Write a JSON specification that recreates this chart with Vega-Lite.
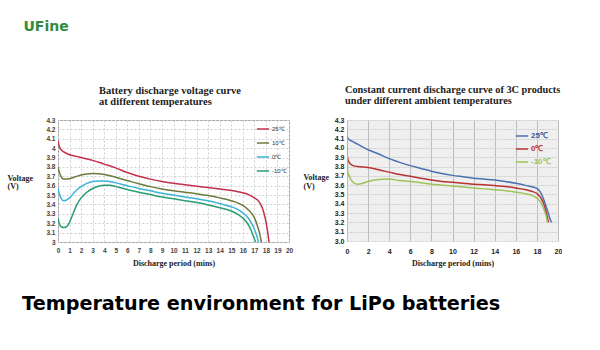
{
  "$schema": "https://vega.github.io/schema/vega-lite/v6.json",
  "background": "white",
  "padding": {"left": 6, "top": 19, "right": 0, "bottom": 0},
  "title": {"text": "UFine", "orient": "top", "anchor": "start", "frame": "bounds", "font": "DejaVu Sans", "fontSize": 14, "fontWeight": "bold", "color": "#2e8b3e", "dx": 17, "offset": 51},
  "datasets": {
    "left": [
      {"t": 0, "v": 4.08, "temp": "25℃"}, {"t": 0.1, "v": 4.02, "temp": "25℃"}, {"t": 0.3, "v": 3.98, "temp": "25℃"}, {"t": 0.5, "v": 3.96, "temp": "25℃"}, {"t": 1, "v": 3.93, "temp": "25℃"}, {"t": 1.5, "v": 3.915, "temp": "25℃"}, {"t": 2, "v": 3.9, "temp": "25℃"}, {"t": 3, "v": 3.87, "temp": "25℃"}, {"t": 4, "v": 3.83, "temp": "25℃"}, {"t": 5, "v": 3.79, "temp": "25℃"}, {"t": 6, "v": 3.74, "temp": "25℃"}, {"t": 7, "v": 3.7, "temp": "25℃"}, {"t": 8, "v": 3.67, "temp": "25℃"}, {"t": 9, "v": 3.645, "temp": "25℃"}, {"t": 10, "v": 3.625, "temp": "25℃"}, {"t": 11, "v": 3.61, "temp": "25℃"}, {"t": 12, "v": 3.595, "temp": "25℃"}, {"t": 13, "v": 3.58, "temp": "25℃"}, {"t": 14, "v": 3.565, "temp": "25℃"}, {"t": 15, "v": 3.55, "temp": "25℃"}, {"t": 16, "v": 3.525, "temp": "25℃"}, {"t": 16.5, "v": 3.505, "temp": "25℃"}, {"t": 17, "v": 3.47, "temp": "25℃"}, {"t": 17.4, "v": 3.43, "temp": "25℃"}, {"t": 17.7, "v": 3.36, "temp": "25℃"}, {"t": 17.95, "v": 3.25, "temp": "25℃"}, {"t": 18.1, "v": 3.15, "temp": "25℃"}, {"t": 18.27, "v": 3.0, "temp": "25℃"},
      {"t": 0, "v": 3.8, "temp": "10℃"}, {"t": 0.1, "v": 3.75, "temp": "10℃"}, {"t": 0.3, "v": 3.69, "temp": "10℃"}, {"t": 0.5, "v": 3.67, "temp": "10℃"}, {"t": 0.8, "v": 3.67, "temp": "10℃"}, {"t": 1, "v": 3.675, "temp": "10℃"}, {"t": 1.5, "v": 3.695, "temp": "10℃"}, {"t": 2, "v": 3.715, "temp": "10℃"}, {"t": 2.5, "v": 3.725, "temp": "10℃"}, {"t": 3, "v": 3.73, "temp": "10℃"}, {"t": 3.5, "v": 3.728, "temp": "10℃"}, {"t": 4, "v": 3.72, "temp": "10℃"}, {"t": 5, "v": 3.69, "temp": "10℃"}, {"t": 6, "v": 3.655, "temp": "10℃"}, {"t": 7, "v": 3.62, "temp": "10℃"}, {"t": 8, "v": 3.59, "temp": "10℃"}, {"t": 9, "v": 3.565, "temp": "10℃"}, {"t": 10, "v": 3.545, "temp": "10℃"}, {"t": 11, "v": 3.53, "temp": "10℃"}, {"t": 12, "v": 3.515, "temp": "10℃"}, {"t": 13, "v": 3.495, "temp": "10℃"}, {"t": 14, "v": 3.47, "temp": "10℃"}, {"t": 15, "v": 3.44, "temp": "10℃"}, {"t": 15.5, "v": 3.42, "temp": "10℃"}, {"t": 16, "v": 3.39, "temp": "10℃"}, {"t": 16.5, "v": 3.34, "temp": "10℃"}, {"t": 17, "v": 3.26, "temp": "10℃"}, {"t": 17.3, "v": 3.16, "temp": "10℃"}, {"t": 17.5, "v": 3.07, "temp": "10℃"}, {"t": 17.6, "v": 3.0, "temp": "10℃"},
      {"t": 0, "v": 3.58, "temp": "0℃"}, {"t": 0.1, "v": 3.52, "temp": "0℃"}, {"t": 0.3, "v": 3.46, "temp": "0℃"}, {"t": 0.5, "v": 3.44, "temp": "0℃"}, {"t": 0.7, "v": 3.445, "temp": "0℃"}, {"t": 1, "v": 3.47, "temp": "0℃"}, {"t": 1.5, "v": 3.54, "temp": "0℃"}, {"t": 2, "v": 3.59, "temp": "0℃"}, {"t": 2.5, "v": 3.625, "temp": "0℃"}, {"t": 3, "v": 3.645, "temp": "0℃"}, {"t": 3.5, "v": 3.65, "temp": "0℃"}, {"t": 4, "v": 3.65, "temp": "0℃"}, {"t": 5, "v": 3.63, "temp": "0℃"}, {"t": 6, "v": 3.6, "temp": "0℃"}, {"t": 7, "v": 3.57, "temp": "0℃"}, {"t": 8, "v": 3.545, "temp": "0℃"}, {"t": 9, "v": 3.52, "temp": "0℃"}, {"t": 10, "v": 3.5, "temp": "0℃"}, {"t": 11, "v": 3.48, "temp": "0℃"}, {"t": 12, "v": 3.46, "temp": "0℃"}, {"t": 13, "v": 3.44, "temp": "0℃"}, {"t": 14, "v": 3.41, "temp": "0℃"}, {"t": 15, "v": 3.375, "temp": "0℃"}, {"t": 15.5, "v": 3.35, "temp": "0℃"}, {"t": 16, "v": 3.31, "temp": "0℃"}, {"t": 16.5, "v": 3.25, "temp": "0℃"}, {"t": 16.8, "v": 3.19, "temp": "0℃"}, {"t": 17.05, "v": 3.12, "temp": "0℃"}, {"t": 17.25, "v": 3.05, "temp": "0℃"}, {"t": 17.35, "v": 3.0, "temp": "0℃"},
      {"t": 0, "v": 3.26, "temp": "-10℃"}, {"t": 0.1, "v": 3.2, "temp": "-10℃"}, {"t": 0.3, "v": 3.16, "temp": "-10℃"}, {"t": 0.5, "v": 3.155, "temp": "-10℃"}, {"t": 0.8, "v": 3.17, "temp": "-10℃"}, {"t": 1, "v": 3.21, "temp": "-10℃"}, {"t": 1.3, "v": 3.3, "temp": "-10℃"}, {"t": 1.6, "v": 3.39, "temp": "-10℃"}, {"t": 2, "v": 3.47, "temp": "-10℃"}, {"t": 2.5, "v": 3.53, "temp": "-10℃"}, {"t": 3, "v": 3.57, "temp": "-10℃"}, {"t": 3.5, "v": 3.595, "temp": "-10℃"}, {"t": 4, "v": 3.605, "temp": "-10℃"}, {"t": 4.5, "v": 3.605, "temp": "-10℃"}, {"t": 5, "v": 3.59, "temp": "-10℃"}, {"t": 6, "v": 3.56, "temp": "-10℃"}, {"t": 7, "v": 3.53, "temp": "-10℃"}, {"t": 8, "v": 3.505, "temp": "-10℃"}, {"t": 9, "v": 3.48, "temp": "-10℃"}, {"t": 10, "v": 3.46, "temp": "-10℃"}, {"t": 11, "v": 3.44, "temp": "-10℃"}, {"t": 12, "v": 3.42, "temp": "-10℃"}, {"t": 13, "v": 3.395, "temp": "-10℃"}, {"t": 14, "v": 3.365, "temp": "-10℃"}, {"t": 15, "v": 3.33, "temp": "-10℃"}, {"t": 15.5, "v": 3.3, "temp": "-10℃"}, {"t": 16, "v": 3.255, "temp": "-10℃"}, {"t": 16.4, "v": 3.2, "temp": "-10℃"}, {"t": 16.7, "v": 3.13, "temp": "-10℃"}, {"t": 16.95, "v": 3.05, "temp": "-10℃"}, {"t": 17.1, "v": 3.0, "temp": "-10℃"}
    ],
    "right": [
      {"m": 0, "u": 4.13, "amb": "25℃"}, {"m": 0.1, "u": 4.1, "amb": "25℃"}, {"m": 0.5, "u": 4.07, "amb": "25℃"}, {"m": 1, "u": 4.04, "amb": "25℃"}, {"m": 2, "u": 3.98, "amb": "25℃"}, {"m": 3, "u": 3.935, "amb": "25℃"}, {"m": 4, "u": 3.885, "amb": "25℃"}, {"m": 5, "u": 3.845, "amb": "25℃"}, {"m": 6, "u": 3.81, "amb": "25℃"}, {"m": 7, "u": 3.78, "amb": "25℃"}, {"m": 8, "u": 3.75, "amb": "25℃"}, {"m": 9, "u": 3.725, "amb": "25℃"}, {"m": 10, "u": 3.705, "amb": "25℃"}, {"m": 11, "u": 3.69, "amb": "25℃"}, {"m": 12, "u": 3.675, "amb": "25℃"}, {"m": 13, "u": 3.665, "amb": "25℃"}, {"m": 14, "u": 3.655, "amb": "25℃"}, {"m": 15, "u": 3.64, "amb": "25℃"}, {"m": 16, "u": 3.62, "amb": "25℃"}, {"m": 17, "u": 3.595, "amb": "25℃"}, {"m": 18, "u": 3.565, "amb": "25℃"}, {"m": 18.3, "u": 3.53, "amb": "25℃"}, {"m": 18.6, "u": 3.46, "amb": "25℃"}, {"m": 18.9, "u": 3.36, "amb": "25℃"}, {"m": 19.1, "u": 3.29, "amb": "25℃"}, {"m": 19.3, "u": 3.22, "amb": "25℃"}, {"m": 19.4, "u": 3.2, "amb": "25℃"},
      {"m": 0, "u": 3.93, "amb": "0℃"}, {"m": 0.1, "u": 3.87, "amb": "0℃"}, {"m": 0.3, "u": 3.83, "amb": "0℃"}, {"m": 0.6, "u": 3.81, "amb": "0℃"}, {"m": 1, "u": 3.8, "amb": "0℃"}, {"m": 2, "u": 3.79, "amb": "0℃"}, {"m": 2.5, "u": 3.78, "amb": "0℃"}, {"m": 3, "u": 3.765, "amb": "0℃"}, {"m": 4, "u": 3.74, "amb": "0℃"}, {"m": 5, "u": 3.715, "amb": "0℃"}, {"m": 6, "u": 3.695, "amb": "0℃"}, {"m": 7, "u": 3.675, "amb": "0℃"}, {"m": 8, "u": 3.655, "amb": "0℃"}, {"m": 9, "u": 3.64, "amb": "0℃"}, {"m": 10, "u": 3.63, "amb": "0℃"}, {"m": 11, "u": 3.62, "amb": "0℃"}, {"m": 12, "u": 3.61, "amb": "0℃"}, {"m": 13, "u": 3.605, "amb": "0℃"}, {"m": 14, "u": 3.595, "amb": "0℃"}, {"m": 15, "u": 3.585, "amb": "0℃"}, {"m": 16, "u": 3.57, "amb": "0℃"}, {"m": 17, "u": 3.55, "amb": "0℃"}, {"m": 17.5, "u": 3.535, "amb": "0℃"}, {"m": 18, "u": 3.51, "amb": "0℃"}, {"m": 18.4, "u": 3.46, "amb": "0℃"}, {"m": 18.7, "u": 3.38, "amb": "0℃"}, {"m": 18.9, "u": 3.3, "amb": "0℃"}, {"m": 19.1, "u": 3.2, "amb": "0℃"},
      {"m": 0, "u": 4.2, "amb": "-10℃"}, {"m": 0.03, "u": 3.9, "amb": "-10℃"}, {"m": 0.06, "u": 3.75, "amb": "-10℃"}, {"m": 0.2, "u": 3.7, "amb": "-10℃"}, {"m": 0.5, "u": 3.64, "amb": "-10℃"}, {"m": 1, "u": 3.61, "amb": "-10℃"}, {"m": 1.5, "u": 3.62, "amb": "-10℃"}, {"m": 2, "u": 3.64, "amb": "-10℃"}, {"m": 3, "u": 3.66, "amb": "-10℃"}, {"m": 4, "u": 3.665, "amb": "-10℃"}, {"m": 5, "u": 3.65, "amb": "-10℃"}, {"m": 6, "u": 3.64, "amb": "-10℃"}, {"m": 7, "u": 3.625, "amb": "-10℃"}, {"m": 8, "u": 3.61, "amb": "-10℃"}, {"m": 9, "u": 3.6, "amb": "-10℃"}, {"m": 10, "u": 3.59, "amb": "-10℃"}, {"m": 11, "u": 3.58, "amb": "-10℃"}, {"m": 12, "u": 3.57, "amb": "-10℃"}, {"m": 13, "u": 3.56, "amb": "-10℃"}, {"m": 14, "u": 3.55, "amb": "-10℃"}, {"m": 15, "u": 3.54, "amb": "-10℃"}, {"m": 16, "u": 3.525, "amb": "-10℃"}, {"m": 17, "u": 3.505, "amb": "-10℃"}, {"m": 17.5, "u": 3.49, "amb": "-10℃"}, {"m": 18, "u": 3.46, "amb": "-10℃"}, {"m": 18.4, "u": 3.41, "amb": "-10℃"}, {"m": 18.7, "u": 3.33, "amb": "-10℃"}, {"m": 18.9, "u": 3.26, "amb": "-10℃"}, {"m": 19.0, "u": 3.2, "amb": "-10℃"}
    ]
  },
  "vconcat": [
    {
      "title": {"text": "Temperature environment for LiPo batteries", "orient": "bottom", "anchor": "middle", "frame": "bounds", "dx": -23, "offset": 27, "font": "DejaVu Sans", "fontSize": 19.2, "fontWeight": "bold", "color": "#000000"},
      "bounds": "flush",
      "spacing": 58,
      "resolve": {"scale": {"color": "independent", "x": "independent", "y": "independent"}, "legend": {"color": "independent"}},
      "hconcat": [
        {
          "width": 231,
          "height": 122,
          "title": {"text": ["Battery discharge voltage curve", "at different temperatures"], "anchor": "start", "frame": "group", "dx": 41, "offset": 10, "font": "Liberation Serif", "fontSize": 10.5, "fontWeight": "bold", "color": "#222222", "lineHeight": 11},
          "view": {"stroke": "#a0a0a0", "fill": "white"},
          "data": {"name": "left"},
          "mark": {"type": "line", "strokeWidth": 1.5, "interpolate": "monotone", "clip": true},
          "encoding": {
            "x": {"field": "t", "type": "quantitative", "scale": {"domain": [0, 20], "nice": false},
              "axis": {"values": [0,1,2,3,4,5,6,7,8,9,10,11,12,13,14,15,16,17,18,19,20], "title": "Discharge period (mins)", "grid": true, "gridDash": [2, 2], "gridColor": "#d0d0d0", "domain": false, "ticks": false, "labelFont": "Liberation Sans", "labelFontSize": 6.5, "labelFontWeight": "bold", "labelColor": "#444444", "labelPadding": 5, "labelFlush": false, "labelOverlap": false, "titleFont": "Liberation Serif", "titleFontSize": 8, "titleFontWeight": "bold", "titleColor": "#222222", "titlePadding": 6}},
            "y": {"field": "v", "type": "quantitative", "scale": {"domain": [3, 4.3], "nice": false, "zero": false},
              "axis": {"values": [3, 3.1, 3.2, 3.3, 3.4, 3.5, 3.6, 3.7, 3.8, 3.9, 4, 4.1, 4.2, 4.3], "format": "~g", "title": ["Voltage", "(V)"], "titleAngle": 0, "titleAlign": "left", "titleBaseline": "middle", "titleX": -51, "titleY": 58, "titleFont": "Liberation Serif", "titleFontSize": 8, "titleFontWeight": "bold", "titleColor": "#222222", "titleLineHeight": 8, "grid": true, "gridDash": [2, 2], "gridColor": "#d0d0d0", "domain": false, "ticks": false, "labelFont": "Liberation Sans", "labelFontSize": 6.5, "labelFontWeight": "bold", "labelColor": "#444444", "labelPadding": 3, "labelOverlap": false, "labelFlush": false}},
            "color": {"field": "temp", "type": "nominal", "scale": {"domain": ["25℃", "10℃", "0℃", "-10℃"], "range": ["#c3304a", "#6b7b3d", "#3cb4d8", "#2a9d72"]},
              "legend": {"title": null, "orient": "none", "legendX": 198, "legendY": 2, "symbolType": "stroke", "symbolSize": 150, "symbolStrokeWidth": 1.5, "labelFont": "Liberation Sans", "labelFontSize": 6, "labelColor": "#333333", "rowPadding": 4, "labelOffset": 2}}
          }
        },
        {
          "width": 211,
          "height": 121,
          "title": {"text": ["Constant current discharge curve of 3C products", "under different ambient temperatures"], "anchor": "start", "frame": "group", "dx": -2, "offset": 10, "font": "Liberation Serif", "fontSize": 10.3, "fontWeight": "bold", "color": "#222222", "lineHeight": 11},
          "view": {"stroke": null, "fill": "#efefef"},
          "data": {"name": "right"},
          "mark": {"type": "line", "strokeWidth": 1.5, "interpolate": "monotone", "clip": true},
          "encoding": {
            "x": {"field": "m", "type": "quantitative", "scale": {"domain": [0, 20], "nice": false},
              "axis": {"values": [0,2,4,6,8,10,12,14,16,18,20], "title": "Discharge period (mins)", "grid": true, "gridColor": "#bdbdbd", "domain": false, "ticks": false, "labelFont": "Liberation Sans", "labelFontSize": 7, "labelFontWeight": "bold", "labelColor": "#222222", "labelPadding": 6, "labelFlush": false, "labelOverlap": false, "titleFont": "Liberation Serif", "titleFontSize": 8, "titleFontWeight": "bold", "titleColor": "#222222", "titlePadding": 5}},
            "y": {"field": "u", "type": "quantitative", "scale": {"domain": [3, 4.3], "nice": false, "zero": false},
              "axis": {"values": [3, 3.1, 3.2, 3.3, 3.4, 3.5, 3.6, 3.7, 3.8, 3.9, 4, 4.1, 4.2, 4.3], "format": ".1f", "title": ["Voltage", "(V)"], "titleAngle": 0, "titleAlign": "left", "titleBaseline": "middle", "titleX": -44, "titleY": 57, "titleFont": "Liberation Serif", "titleFontSize": 8, "titleFontWeight": "bold", "titleColor": "#222222", "titleLineHeight": 9, "grid": true, "gridDash": [2, 1], "gridColor": "#cfcfcf", "domain": false, "ticks": false, "labelFont": "Liberation Sans", "labelFontSize": 7, "labelFontWeight": "bold", "labelColor": "#222222", "labelPadding": 3, "labelOverlap": false, "labelFlush": false}},
            "color": {"field": "amb", "type": "nominal", "scale": {"domain": ["25℃", "0℃", "-10℃"], "range": ["#4a72b0", "#b83232", "#9cc45a"]},
              "legend": {"title": null, "orient": "none", "legendX": 168, "legendY": 9, "symbolType": "stroke", "symbolSize": 150, "symbolStrokeWidth": 1.5, "labelFont": "Liberation Sans", "labelFontSize": 8, "labelFontWeight": "bold", "labelColor": {"expr": "datum.value == '25℃' ? '#3a5a94' : datum.value == '0℃' ? '#b83232' : '#9cc45a'"}, "rowPadding": 2, "labelOffset": 2}}
          }
        }
      ]
    }
  ]
}
